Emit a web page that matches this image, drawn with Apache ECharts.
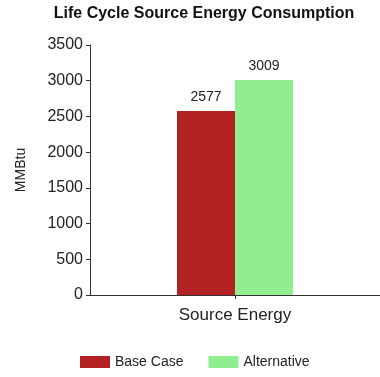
<!DOCTYPE html>
<html><head><meta charset="utf-8">
<script src="https://cdn.jsdelivr.net/npm/echarts@6/dist/echarts.min.js"></script>
<style>html,body{margin:0;padding:0;background:#fff}#c{width:380px;height:377px}</style>
</head><body><div id="c"></div>
<script>
const categories = ["Source Energy"];
const baseCase = [2577];
const alternative = [3009];
const yTicks = [0, 500, 1000, 1500, 2000, 2500, 3000, 3500];

const font = "Liberation Sans, Arial, sans-serif";
const chart = echarts.init(document.getElementById('c'), null, {renderer: 'canvas'});
chart.setOption({
  animation: false,
  backgroundColor: '#fff',
  title: {
    text: 'Life Cycle Source Energy Consumption',
    left: 199, top: 1, textAlign: 'center',
    textStyle: {fontFamily: font, fontSize: 16, fontWeight: 'bold', color: '#111'}
  },
  legend: {
    left: 75, top: 350,
    itemWidth: 30, itemHeight: 12, itemGap: 25,
    icon: 'rect',
    textStyle: {fontFamily: font, fontSize: 14, color: '#222'},
    data: ['Base Case', 'Alternative']
  },
  grid: {left: 90, right: -6, top: 45, bottom: 82, containLabel: false},
  xAxis: {
    type: 'category', data: categories,
    axisLine: {lineStyle: {color: '#333', width: 1}},
    axisTick: {show: true, alignWithLabel: true, length: 4, lineStyle: {color: '#333'}},
    axisLabel: {fontFamily: font, fontSize: 17, color: '#222', margin: 12}
  },
  yAxis: {
    type: 'value', min: yTicks[0], max: yTicks[yTicks.length - 1], interval: 500,
    name: 'MMBtu', nameLocation: 'middle', nameGap: 62, nameRotate: 90,
    nameTextStyle: {fontFamily: font, fontSize: 14, color: '#222'},
    axisLine: {show: true, lineStyle: {color: '#333', width: 1}},
    axisTick: {show: true, length: 4, lineStyle: {color: '#333'}},
    axisLabel: {fontFamily: font, fontSize: 16, color: '#222', margin: 7,
                formatter: function (v) { return String(v); }},
    splitLine: {show: false}
  },
  series: [
    {name: 'Base Case', type: 'bar', data: baseCase, barWidth: 58, barGap: '0%',
     itemStyle: {color: '#B22222'},
     label: {show: true, position: 'top', distance: 7, fontFamily: font, fontSize: 14, color: '#222'}},
    {name: 'Alternative', type: 'bar', data: alternative, barWidth: 58, barGap: '0%',
     itemStyle: {color: '#90EE90'},
     label: {show: true, position: 'top', distance: 7, fontFamily: font, fontSize: 14, color: '#222'}}
  ]
});
</script></body></html>
